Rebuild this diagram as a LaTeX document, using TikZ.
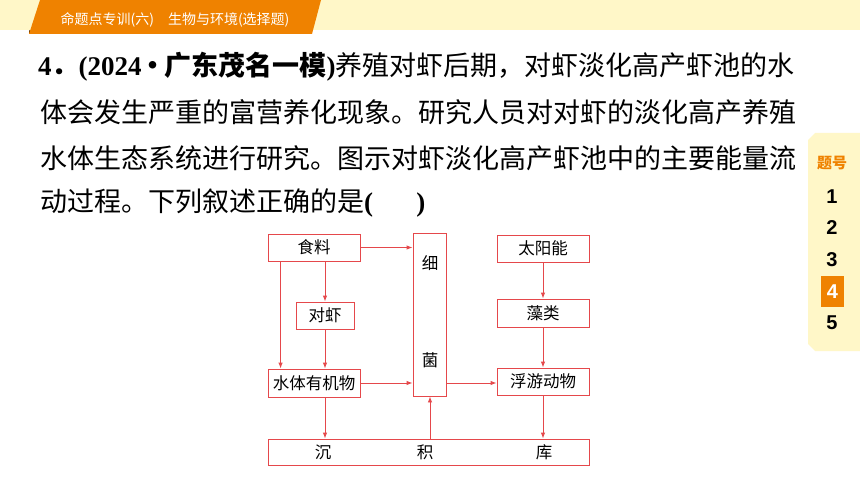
\documentclass[tikz,border=0pt]{standalone}
\usepackage{fontspec}
\setmainfont{Liberation Serif}
\newfontfamily\cjk{Noto Sans CJK SC}
\newfontfamily\numfont{Liberation Sans}
\usetikzlibrary{arrows.meta}

\definecolor{hdrorange}{HTML}{EF8200}
\definecolor{hdryellow}{HTML}{FFF7C8}
\definecolor{flowred}{HTML}{E5484B}

\newcommand{\serifb}[1]{{\rmfamily\bfseries #1}}

\tikzset{
  flowbox/.style={draw=flowred, line width=0.9pt, inner sep=0pt, font=\cjk\fontsize{16.5}{18}\selectfont},
  flowlabel/.style={inner sep=0pt, font=\cjk\fontsize{16.5}{18}\selectfont},
  flowarrow/.style={draw=flowred, line width=0.9pt, -{Latex[length=6pt,width=4.5pt]}},
  qline/.style={anchor=west, inner sep=0pt, font=\cjk\fontsize{27}{30}\selectfont},
  qnum/.style={inner sep=0pt, font=\numfont\bfseries\fontsize{20}{22}\selectfont}
}

\begin{document}
\begin{tikzpicture}[x=1pt, y=-1pt]
    \useasboundingbox (0,0) rectangle (860,484);
    \fill[white] (0,0) rectangle (860,484);

    % Header band and tab
    \fill[hdryellow] (0,0) rectangle (860,30);
    \fill[black!60!hdrorange] (29,30) -- (33,34) -- (29,34) -- cycle;
    \fill[hdrorange] (40,0) -- (321,0) -- (312,34) -- (29,34) -- cycle;
    \node[text=white, inner sep=0pt, font=\cjk\fontsize{14}{16}\selectfont] (header) at (175,20) {命题点专训(六)\hspace{1em}生物与环境(选择题)};

    % Question text
    \node[qline] (q1) at (38,67) {\serifb{4}{\cjk\bfseries ．}\serifb{(2024}{\cjk\bfseries\hspace{-2pt}・\hspace{-2pt}广东茂名一模}\serifb{)}养殖对虾后期，对虾淡化高产虾池的水};
    \node[qline] (q2) at (40,112) {体会发生严重的富营养化现象。研究人员对对虾的淡化高产养殖};
    \node[qline] (q3) at (40,158) {水体生态系统进行研究。图示对虾淡化高产虾池中的主要能量流};
    \node[qline] (q4) at (40,203) {动过程。下列叙述正确的是\serifb{(}\hspace{1.6em}\serifb{)}};

    % Side panel
    \fill[hdryellow] (815,133) -- (860,133) -- (860,351) -- (815,351) -- (808,344) -- (808,140) -- cycle;
    \node[text=hdrorange, inner sep=0pt, font=\cjk\bfseries\fontsize{15}{17}\selectfont] (title) at (832,163) {题号};
    \fill[hdrorange] (821,276) rectangle (844,307);
    \foreach \n/\y in {1/197, 2/228, 3/260, 5/323}
        \node[qnum] (num\n) at (832,\y) {\n};
    \node[qnum, text=white] (num4) at (832.5,292) {4};

    % Flow diagram boxes
    \node[flowbox, minimum width=92pt, minimum height=27pt] (shiliao) at (314,247.5) {食料};
    \node[flowbox, minimum width=58pt, minimum height=27pt] (duixia) at (325,315.5) {对虾};
    \node[flowbox, minimum width=92pt, minimum height=28pt] (shuiti) at (314,383) {水体有机物};
    \node[flowbox, minimum width=33pt, minimum height=163pt] (xijun) at (429.5,314.5) {};
    \node[flowlabel] (xi) at (430,263) {细};
    \node[flowlabel] (jun) at (430,360) {菌};
    \node[flowbox, minimum width=92pt, minimum height=27pt] (taiyang) at (543,248.5) {太阳能};
    \node[flowbox, minimum width=92pt, minimum height=28pt] (zaolei) at (543,313) {藻类};
    \node[flowbox, minimum width=92pt, minimum height=27pt] (fuyou) at (543,381.5) {浮游动物};
    \node[flowbox, minimum width=321pt, minimum height=26pt] (chenji) at (428.5,452) {};
    \node[flowlabel] (chen) at (323,452) {沉};
    \node[flowlabel] (ji) at (425,452) {积};
    \node[flowlabel] (ku) at (544,452) {库};

    % Energy flow arrows
    \draw[flowarrow] (shiliao.east) -- (shiliao.east -| xijun.west);
    \draw[flowarrow] ([xshift=13pt]shiliao.south west) -- ([xshift=13pt]shuiti.north west);
    \draw[flowarrow] (shiliao.south -| duixia.north) -- (duixia.north);
    \draw[flowarrow] (duixia.south) -- (duixia.south |- shuiti.north);
    \draw[flowarrow] (shuiti.east) -- (shuiti.east -| xijun.west);
    \draw[flowarrow] (shuiti.south -| duixia.south) -- (duixia.south |- chenji.north);
    \draw[flowarrow] ([xshift=1.5pt]chenji.north) -- ([xshift=1.5pt]chenji.north |- xijun.south);
    \draw[flowarrow] (shuiti.east -| xijun.east) -- (shuiti.east -| fuyou.west);
    \draw[flowarrow] (taiyang.south) -- (zaolei.north);
    \draw[flowarrow] (zaolei.south) -- (fuyou.north);
    \draw[flowarrow] (fuyou.south) -- (fuyou.south |- chenji.north);
\end{tikzpicture}
\end{document}
